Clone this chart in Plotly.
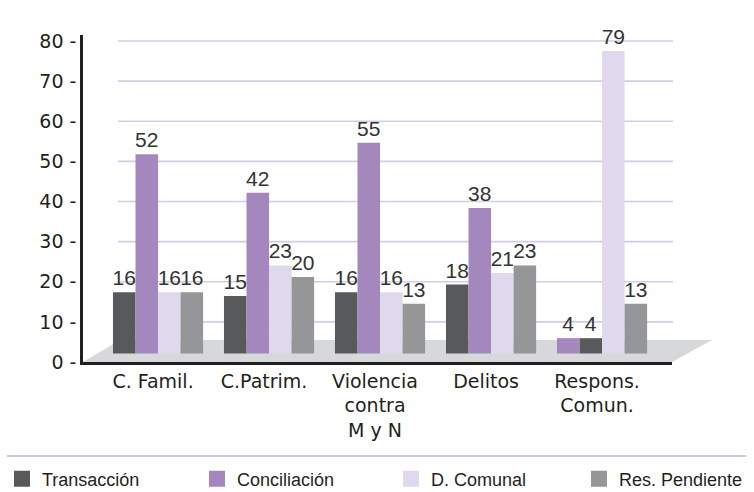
import plotly.graph_objects as go

# ---------------- data ----------------
categories = ["C. Famil.", "C.Patrim.", "Violencia<br>contra<br>M y N", "Delitos", "Respons.<br>Comun."]
series_names = ["Transacción", "Conciliación", "D. Comunal", "Res. Pendiente"]
transaccion = [16, 15, 16, 18, 4]
conciliacion = [52, 42, 55, 38, 4]
d_comunal = [16, 23, 16, 21, 79]
res_pendiente = [16, 20, 13, 23, 13]
y_ticks = [0, 10, 20, 30, 40, 50, 60, 70, 80]
y_tick_labels = [f"{v} -" for v in y_ticks]

series_values = [transaccion, conciliacion, d_comunal, res_pendiente]
colors = ["#58595b", "#a487bd", "#e0d8ec", "#959697"]
# position of each series inside its group (last group shows Conciliación first)
slots = [
    [0, 0, 0, 0, 1],
    [1, 1, 1, 1, 0],
    [2, 2, 2, 2, 2],
    [3, 3, 3, 3, 3],
]

W, H = 754, 492
def px(x):
    return x / W
def py(y):
    return (H - y) / H

bar_w = 0.203
group_w = 4 * bar_w

legend_ids = ["legend", "legend2", "legend3", "legend4"]
legend_left_px = [2, 197, 391, 579]

fig = go.Figure()
for name, vals, col, sl in zip(series_names, series_values, colors, slots):
    fig.add_trace(go.Bar(
        x=categories, y=vals, name=name, marker=dict(color=col, line=dict(width=0)),
        width=[bar_w] * len(vals),
        offset=[-group_w / 2 + s * bar_w for s in sl],
        yaxis="y2", showlegend=False, hoverinfo="skip",
        text=[str(v) for v in vals], textposition="outside",
        textfont=dict(family="Liberation Sans, Arial, sans-serif", size=21, color="#333333"),
        constraintext="none", cliponaxis=False,
    ))

# legend proxies (larger square swatches), one legend box per series
for name, col, lid in zip(series_names, colors, legend_ids):
    fig.add_trace(go.Scatter(
        x=[None], y=[None], mode="markers", name=name,
        marker=dict(symbol="square", size=20, color=col, line=dict(width=0)),
        showlegend=True, legend=lid,
    ))

shapes = []
for v in y_ticks[1:]:
    shapes.append(dict(type="line", xref="paper", yref="y", x0=px(118), x1=px(673), y0=v, y1=v,
                       line=dict(color="#d6cbe4", width=1.6), layer="below"))
# floor
shapes.append(dict(type="path", xref="paper", yref="paper",
                   path=f"M {px(83)},{py(362)} L {px(120)},{py(340)} L {px(712)},{py(340)} L {px(672)},{py(362)} Z",
                   fillcolor="#d7d8da", line=dict(width=0), layer="below"))
# separator above legend
shapes.append(dict(type="line", xref="paper", yref="paper", x0=px(7), x1=px(746), y0=py(456), y1=py(456),
                   line=dict(color="#d2c6e0", width=2)))

tick_font = dict(family="DejaVu Sans, sans-serif", size=19, color="#231f20")
legend_font = dict(family="Liberation Sans, Arial, sans-serif", size=18, color="#231f20")

legend_layouts = {}
for lid, lx in zip(legend_ids, legend_left_px):
    legend_layouts[lid] = dict(orientation="h", x=px(lx), xanchor="left", y=py(479), yanchor="middle",
                               font=legend_font, itemclick=False, itemdoubleclick=False,
                               bgcolor="rgba(0,0,0,0)")

fig.update_layout(
    width=W, height=H, autosize=False,
    margin=dict(l=0, r=0, t=0, b=0, autoexpand=False),
    paper_bgcolor="white", plot_bgcolor="rgba(0,0,0,0)",
    barmode="overlay",
    shapes=shapes,
    hovermode=False,
    xaxis=dict(domain=[px(83), px(672)], range=[-0.676, 4.63], type="category",
               showline=True, linecolor="#231f20", linewidth=2.5, ticks="",
               showgrid=False, zeroline=False, tickfont=tick_font, ticklabelshift=-5,
               anchor="y", fixedrange=True, automargin=False),
    yaxis=dict(domain=[py(362), py(35)], range=[0, 81.5], tickmode="array",
               tickvals=y_ticks, ticktext=y_tick_labels,
               showline=True, linecolor="#231f20", linewidth=2.5, ticks="",
               showgrid=False, zeroline=False, tickfont=tick_font, anchor="x",
               fixedrange=True, automargin=False),
    yaxis2=dict(overlaying="y", range=[-2.22, 83.16], visible=False, fixedrange=True),
    showlegend=True,
    **legend_layouts,
)

fig.write_html("out.html", config={"displayModeBar": False},
               post_script="document.body.style.margin='0px';")
